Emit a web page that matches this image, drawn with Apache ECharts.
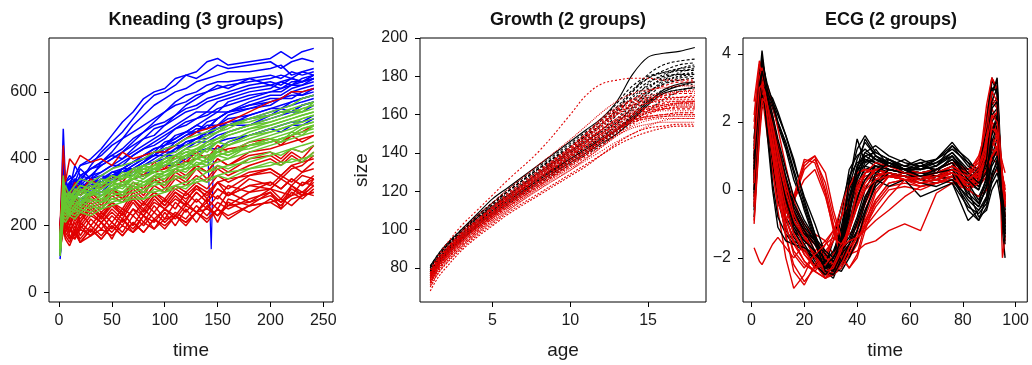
<!DOCTYPE html>
<html>
<head>
<meta charset="utf-8">
<script src="https://cdn.jsdelivr.net/npm/echarts@6/dist/echarts.min.js"></script>
<style>
html,body{margin:0;padding:0;background:#fff;}
#c{width:1032px;height:365px;}
</style>
</head>
<body>
<div id="c"></div>
<script>
// ---------------- Kneading (3 groups) ----------------
const KN_TIME = [1,4,6,10,15,20,30,40,50,60,70,80,90,100,110,120,130,140,150,160,180,200,210,220,230,241];
const KN_TICKS_X = [0,50,100,150,200,250];
const KN_TICKS_Y = [0,200,400,600];
const KN_BLUE = [
 [120,310,280,330,350,380,400,430,470,510,540,580,600,610,640,650,660,690,700,680,690,700,720,700,720,730],
 [110,290,300,320,340,330,380,420,450,480,520,560,590,600,620,650,640,660,680,670,680,690,670,690,700,690],
 [150,490,330,310,380,350,370,390,420,460,500,530,560,580,600,610,630,640,650,660,660,670,680,650,660,670],
 [200,360,310,290,340,320,350,380,400,420,450,480,510,540,570,590,600,620,630,630,640,650,640,660,650,660],
 [180,330,290,300,330,370,340,390,410,400,430,460,470,500,530,560,580,600,620,610,640,620,630,640,630,640],
 [130,300,300,270,310,290,320,350,340,370,390,410,430,440,470,480,500,520,540,540,570,590,590,610,620,630],
 [160,260,290,310,270,320,300,330,350,360,380,400,410,440,450,470,490,490,520,540,550,570,580,580,600,610],
 [100,240,260,280,290,260,310,320,340,370,370,390,420,420,450,470,480,500,500,530,550,560,580,590,590,600],
 [140,310,270,240,300,310,290,310,340,340,360,380,400,420,420,450,460,480,500,500,530,550,550,570,580,590],
 [170,280,250,290,300,270,310,300,330,350,350,380,390,400,430,440,460,460,480,500,500,530,540,540,560,570],
 [120,330,310,300,270,330,350,360,380,400,420,440,460,480,500,520,540,540,570,580,600,610,630,620,640,650],
 [110,270,240,270,280,250,290,300,310,320,340,350,370,380,390,410,420,430,450,460,470,490,500,510,510,530],
 [190,300,330,350,330,340,370,380,400,420,440,460,490,500,520,540,550,570,580,590,610,620,610,630,630,650],
 [150,400,340,300,330,310,340,330,360,360,380,400,410,430,440,440,460,480,490,510,520,540,550,560,570,580],
 [160,370,300,320,290,330,310,340,350,370,390,410,430,440,460,480,480,510,520,540,560,570,580,600,590,610],
 [130,300,340,290,310,290,320,320,340,360,370,390,410,430,440,460,480,470,500,520,530,550,560,570,580,590],
 [200,340,290,310,330,300,340,350,370,390,410,430,450,470,490,510,520,540,540,570,590,600,600,620,630,640],
 [170,290,320,280,310,320,320,340,360,370,390,400,420,450,460,480,500,490,520,540,560,580,580,600,610,620],
 [110,260,300,270,290,280,300,290,310,320,340,350,360,380,380,400,420,430,430,450,470,490,480,500,500,520],
 [140,280,290,300,320,310,330,330,350,360,370,390,410,410,430,450,460,470,490,500,520,530,550,540,560,570],
 [180,320,300,330,310,350,340,360,380,380,410,430,440,460,490,500,520,530,550,560,580,600,610,620,620,640],
 [150,350,320,300,310,300,330,320,330,350,360,380,390,410,410,430,450,450,470,480,500,520,530,540,540,560],
 [160,310,330,340,350,380,390,410,440,460,480,500,520,540,560,570,590,600,610,620,630,640,650,640,660,650],
 [140,300,290,330,320,350,370,390,410,430,460,480,500,510,530,550,560,580,590,600,620,630,620,640,630,650]
];
const KN_BLUE_SPIKE = [[141,400],[144,130],[146,395]];
const KN_RED = [
 [200,440,330,400,380,410,390,400,380,420,400,410,420,420,440,460,480,490,500,510,540,570,580,600,600,610],
 [150,250,200,190,170,210,180,230,190,240,200,250,220,250,230,270,240,280,250,300,270,310,300,290,330,320],
 [130,200,170,150,190,160,200,170,210,180,230,200,240,210,240,220,260,230,270,250,280,300,270,310,290,320],
 [170,240,190,220,180,240,200,240,210,250,230,270,240,280,250,300,270,300,280,320,300,330,310,340,320,350],
 [180,290,240,220,260,230,270,240,270,250,300,270,300,280,320,300,330,310,350,330,360,370,350,380,360,390],
 [140,220,180,160,200,150,190,160,200,170,210,180,220,200,230,210,240,220,250,230,260,270,280,260,290,300],
 [190,300,270,250,290,260,300,270,310,290,330,310,350,330,370,350,380,360,400,380,410,420,400,430,420,440],
 [160,240,200,180,220,190,230,210,240,210,250,230,270,250,280,260,300,270,310,290,320,330,310,340,320,340],
 [150,210,230,170,160,190,170,210,180,220,190,230,210,250,220,260,240,270,210,280,260,300,250,320,300,330],
 [200,320,290,280,310,290,320,310,330,320,340,350,360,370,380,390,400,410,420,430,440,460,450,470,480,500],
 [170,260,220,200,240,210,250,220,260,230,280,250,290,260,300,280,310,290,330,310,350,360,340,370,380,410],
 [140,190,160,140,180,150,170,190,170,200,180,210,190,220,230,210,240,250,230,260,270,290,270,290,300,290],
 [180,260,230,250,270,240,290,260,300,280,320,300,340,320,360,340,380,360,400,380,420,430,440,450,460,470],
 [160,230,250,210,240,220,260,230,270,240,290,260,300,270,310,290,320,300,330,340,350,370,350,380,390,400],
 [160,270,230,200,230,200,240,210,250,220,270,230,280,250,290,260,300,270,310,290,320,310,340,320,350,340],
 [140,220,180,200,160,200,170,210,160,220,180,230,190,240,200,250,210,260,230,270,240,280,260,300,280,310],
 [180,290,250,230,270,240,280,250,290,270,310,280,320,300,340,320,350,330,370,350,380,400,380,410,390,420],
 [150,200,220,180,210,170,220,190,230,200,250,210,260,220,270,240,280,250,290,260,300,310,280,320,290,340],
 [170,250,260,220,250,210,260,220,270,230,280,240,290,260,300,270,320,280,330,290,340,320,350,330,360,370],
 [190,310,270,240,280,250,300,270,310,280,320,290,340,310,350,330,370,340,380,360,400,410,390,420,400,440],
 [130,180,200,160,180,150,190,160,200,170,210,180,220,190,230,200,240,210,250,220,260,270,250,280,290,300],
 [200,350,310,290,330,300,340,310,350,330,370,350,390,370,410,390,420,400,440,420,450,460,440,470,450,470]
];
const KN_GREEN = [
 [130,300,260,250,280,300,290,310,330,340,350,370,380,400,410,430,440,460,480,490,520,540,550,560,580,590],
 [120,280,250,260,270,260,290,300,310,320,340,350,360,380,390,410,420,440,450,470,490,510,520,530,550,560],
 [150,350,270,240,260,280,270,290,300,320,310,330,340,360,370,380,400,410,420,440,460,480,490,500,520,530],
 [110,260,240,230,250,270,260,280,290,300,310,320,330,340,360,370,380,390,410,420,440,460,470,480,500,510],
 [140,240,230,250,240,260,250,270,280,290,300,310,320,330,340,350,370,380,390,400,420,440,450,460,470,480],
 [160,300,280,270,290,310,300,320,340,350,370,380,390,410,420,440,450,470,480,500,510,530,540,550,560,570],
 [130,230,220,240,230,250,240,260,270,280,290,300,300,310,320,330,340,360,370,380,390,410,420,430,440,450],
 [120,270,260,280,300,290,310,300,320,330,340,360,370,380,400,410,430,440,460,470,490,500,510,520,530,540],
 [170,320,290,300,320,340,330,350,370,380,390,400,420,430,440,460,470,480,490,500,520,530,540,540,550,560],
 [140,250,240,260,250,270,280,270,290,300,310,320,340,350,360,370,380,400,410,420,430,450,460,470,490,500],
 [110,220,210,230,220,240,230,250,260,270,280,280,290,300,310,320,330,340,350,360,370,380,390,390,400,410],
 [150,280,270,290,280,300,320,310,330,340,360,370,380,390,410,420,430,450,460,480,500,510,520,530,540,550],
 [130,260,250,270,260,280,300,290,310,330,320,340,360,350,370,390,380,400,420,410,440,450,460,470,480,490],
 [160,310,290,270,300,320,310,330,350,340,360,380,370,390,400,420,410,430,450,440,470,480,490,500,510,520],
 [140,330,280,260,290,270,300,290,320,310,340,330,350,360,380,370,400,390,420,410,440,460,450,480,470,500],
 [120,270,240,250,280,260,300,280,310,300,330,320,350,340,370,360,390,380,410,400,440,450,460,470,490,500],
 [160,290,270,300,280,310,290,330,320,350,340,370,360,390,380,410,400,430,420,450,480,500,510,520,530,540],
 [130,250,270,240,260,250,280,270,300,290,320,300,330,320,350,340,370,360,380,370,400,420,410,430,420,440],
 [150,300,320,290,300,320,310,340,330,360,350,380,370,400,410,430,420,450,460,480,500,520,530,550,540,570],
 [110,240,260,230,250,240,260,250,280,270,290,280,310,300,320,310,340,330,350,340,370,390,380,400,390,420],
 [170,340,300,280,310,300,330,320,350,340,370,360,380,390,410,400,430,420,450,440,470,490,500,510,520,530],
 [140,260,280,260,290,280,300,310,330,320,350,340,370,360,390,380,410,400,430,420,450,470,480,490,500,510]
];

// ---------------- Growth (2 groups) ----------------
const GR_AGE = [1,1.5,2,3,4,5,6,8,10,11,12,13,14,15,16,17,18];
const GR_TICKS_X = [5,10,15];
const GR_TICKS_Y = [80,100,120,140,160,180,200];
const GR_BOYS = [
 [81,87,92,100,108,116,122,134,146,152,158,167,181,190,192,193,195],
 [80,86,91,99,107,114,120,132,143,149,155,162,172,181,186,188,189],
 [78,84,89,97,105,112,118,130,141,147,152,158,167,176,181,183,184],
 [77,83,88,96,103,110,116,127,138,143,148,153,160,169,176,179,180],
 [79,85,90,98,106,113,119,131,142,148,154,161,169,175,178,180,181],
 [76,82,87,95,102,108,114,125,135,140,145,150,157,165,171,173,174],
 [80,86,91,99,106,113,120,132,144,150,157,166,175,180,182,183,183],
 [78,84,89,97,104,111,117,128,139,144,149,154,162,171,177,180,182],
 [75,81,86,94,101,107,113,124,134,139,144,150,158,166,171,173,174],
 [79,85,90,98,105,112,118,129,140,145,150,156,164,173,180,184,186],
 [77,83,88,95,102,109,115,126,137,142,147,152,159,167,172,175,177],
 [81,87,92,100,107,114,121,133,145,151,157,164,173,179,182,184,185],
 [76,82,87,95,102,108,114,125,136,141,146,151,156,162,168,172,175],
 [78,84,89,97,104,110,116,127,138,143,148,155,164,172,176,178,179],
 [79,85,90,98,105,112,118,130,141,146,151,157,166,174,179,181,182],
 [77,83,88,96,103,110,116,127,137,142,147,152,158,166,173,176,177],
 [80,86,91,99,107,114,120,132,143,149,155,163,172,179,183,186,187],
 [76,82,87,95,102,109,115,126,136,141,146,152,160,168,173,175,176],
 [78,84,89,97,104,111,117,129,140,146,152,160,170,177,180,181,181],
 [80,86,91,99,106,112,118,130,141,146,151,156,163,171,178,182,184]
];
const GR_GIRLS = [
 [79,86,92,102,110,118,126,141,160,170,176,178,179,179,178,178,178],
 [74,81,86,94,101,108,114,125,136,142,149,155,159,161,162,162,162],
 [76,83,88,97,104,111,117,129,141,148,155,161,165,167,168,168,168],
 [72,79,84,92,99,105,111,122,132,137,143,149,153,155,156,156,156],
 [77,84,89,98,105,112,119,131,143,150,157,163,167,169,170,171,171],
 [73,80,85,93,100,106,112,123,134,139,145,151,156,158,159,160,160],
 [75,82,87,96,103,109,116,127,139,145,151,157,161,163,164,165,165],
 [70,77,82,90,97,103,109,119,129,134,139,144,148,151,153,154,154],
 [78,85,90,99,107,114,121,134,147,154,161,167,171,173,174,175,175],
 [74,81,86,95,102,108,115,127,138,144,150,156,161,164,166,167,167],
 [76,83,88,96,103,110,116,128,140,146,153,160,165,168,170,172,173],
 [71,78,83,91,98,104,110,121,131,136,141,146,150,154,157,158,158],
 [75,82,87,95,102,108,114,125,137,143,149,154,158,161,163,164,164],
 [73,80,85,93,100,107,113,124,135,141,147,153,158,162,165,166,166],
 [77,84,89,98,105,111,118,130,142,148,155,162,168,172,175,177,177],
 [72,79,84,93,100,106,112,123,133,138,144,150,155,160,163,164,164],
 [74,81,86,94,101,107,113,125,136,142,148,153,157,159,160,161,161],
 [68,75,80,89,96,102,108,118,128,133,139,145,150,153,154,155,155],
 [75,82,87,95,102,109,115,127,139,146,152,158,162,164,165,165,165],
 [73,80,85,94,101,107,114,126,138,145,152,157,160,162,163,163,163],
 [76,83,88,97,104,110,117,129,142,149,156,162,166,168,169,169,169],
 [71,78,83,91,98,105,111,122,133,139,146,152,157,159,160,160,160],
 [74,81,86,94,101,107,113,124,135,140,146,152,157,161,164,166,167],
 [78,85,90,98,105,112,118,130,143,150,158,164,168,170,171,172,172],
 [72,79,84,92,99,106,112,123,134,140,147,153,157,159,160,161,161],
 [75,82,87,96,103,109,116,128,140,146,152,158,163,166,168,169,170],
 [70,77,82,91,98,104,110,121,131,137,143,149,154,157,158,158,158],
 [77,84,89,97,104,111,117,129,141,147,154,160,164,166,167,167,167],
 [73,80,86,95,102,108,114,125,136,141,147,152,156,158,159,159,159],
 [76,83,88,96,103,109,116,128,139,144,150,155,160,163,165,166,166]
];

// ---------------- ECG (2 groups) ----------------
const ECG_TIME = [1,3,4,6,8,10,13,16,20,24,28,31,34,37,40,43,47,52,58,64,70,76,82,86,89,91,93,95,96];
const ECG_TICKS_X = [0,20,40,60,80,100];
const ECG_TICKS_Y = [-2,0,2,4];
const ECG_BLACK = [
 [0.5,3.2,4.1,2.8,1.5,0.6,-0.5,-1.0,-1.3,-1.6,-2.3,-2.0,-0.8,0.6,1.0,1.2,0.9,0.8,0.6,0.5,0.6,0.9,0.4,0.2,1.5,3.2,3.0,-0.2,-1.0],
 [0.0,2.6,3.4,2.2,1.0,0.0,-0.8,-1.2,-1.5,-1.8,-2.4,-2.2,-1.5,-0.2,0.7,1.0,1.1,0.9,0.7,0.6,0.8,1.0,0.5,0.3,0.8,2.5,2.7,-0.8,-1.5],
 [1.2,3.5,3.2,2.5,1.8,1.0,0.0,-0.7,-1.2,-1.5,-2.0,-2.5,-1.9,-0.6,0.4,0.9,0.8,0.6,0.5,0.4,0.5,0.7,0.1,-0.4,0.0,1.0,1.5,0.3,-0.5],
 [-0.5,2.0,2.9,3.0,2.6,2.0,1.4,0.6,-0.4,-1.3,-2.1,-1.8,-1.2,0.0,0.6,0.7,0.6,0.5,0.4,0.3,0.2,0.4,-0.3,-0.6,-0.2,0.5,0.8,-0.3,-0.9],
 [0.8,3.0,3.8,3.0,2.0,0.8,-0.3,-1.0,-1.4,-2.0,-2.5,-2.3,-1.7,-1.0,0.1,0.7,1.0,0.8,0.7,0.8,0.9,1.2,0.8,0.3,2.0,3.3,2.8,-1.2,-2.0],
 [0.2,2.4,3.0,2.0,0.8,-0.3,-1.2,-1.5,-1.7,-2.0,-2.2,-1.5,-0.5,0.4,0.8,0.9,0.7,0.5,0.4,0.4,0.3,0.5,0.0,-0.2,0.3,1.2,1.8,0.4,-0.3],
 [-0.8,1.8,2.5,2.9,2.7,2.3,1.6,0.8,-0.2,-1.0,-1.9,-2.1,-2.0,-1.2,-0.3,0.5,0.7,0.6,0.5,0.4,0.3,0.2,-0.5,-0.7,-0.4,0.2,0.5,-0.2,-0.8],
 [1.5,3.6,3.5,2.2,1.2,0.4,-0.6,-1.1,-1.6,-2.1,-2.6,-2.4,-1.6,-0.4,0.5,1.1,1.3,1.0,0.8,0.7,0.8,1.1,0.6,0.4,1.0,2.8,3.3,0.0,-0.8],
 [0.3,2.8,3.3,2.4,1.6,0.9,-0.2,-0.8,-1.3,-1.6,-2.0,-1.9,-1.3,-0.6,0.2,0.6,0.7,0.6,0.5,0.3,0.4,0.6,0.0,-0.8,-0.6,0.0,0.3,-0.6,-1.1],
 [-0.3,2.2,3.0,2.8,2.4,1.9,1.2,0.3,-0.5,-1.4,-2.3,-2.1,-1.7,-1.4,-0.8,0.0,0.6,0.7,0.6,0.5,0.5,0.7,0.2,0.0,0.6,1.8,2.0,-0.4,-1.0],
 [0.6,3.1,3.6,1.8,0.2,-0.8,-1.3,-1.6,-1.8,-2.0,-2.4,-2.6,-2.0,-0.4,0.6,0.9,0.8,0.6,0.5,0.5,0.6,0.8,-0.2,-0.5,0.1,0.9,1.2,-0.5,-1.2],
 [0.9,2.7,3.1,2.1,1.3,0.7,-0.4,-1.1,-1.5,-1.8,-2.2,-2.0,-1.1,0.1,0.9,1.4,1.0,0.7,0.6,0.6,0.7,1.3,0.9,0.5,1.2,2.2,2.4,-0.2,-0.7],
 [-0.2,2.4,3.4,2.5,1.4,0.5,-0.9,-1.4,-1.8,-2.0,-2.3,-2.2,-1.8,-0.9,-0.2,0.3,0.7,0.7,0.6,0.5,0.4,0.3,-0.4,-0.9,-0.5,0.3,0.7,-0.1,-0.6],
 [0.4,3.3,3.9,2.9,1.8,0.8,-0.2,-0.9,-1.4,-1.9,-2.3,-2.4,-1.9,-0.7,0.3,0.8,0.9,0.7,0.6,0.6,0.7,1.0,0.4,0.1,0.7,2.9,3.2,-0.6,-1.3],
 [0.2,2.9,3.6,2.7,1.9,1.2,0.2,-0.6,-1.2,-1.8,-2.4,-2.5,-2.3,-1.8,-1.2,-0.4,0.4,0.9,0.6,0.8,0.5,1.0,0.3,0.6,0.9,2.0,2.3,-0.4,-1.0],
 [1.0,3.4,3.7,2.9,2.1,1.4,0.4,-0.4,-1.0,-1.5,-2.1,-2.4,-1.6,0.2,1.5,0.8,1.2,0.7,0.9,0.6,0.9,1.3,0.7,0.5,1.1,2.6,3.0,-0.3,-1.1],
 [-0.6,2.1,2.8,2.3,1.5,0.6,-0.5,-1.2,-1.7,-2.2,-2.5,-2.2,-1.8,-1.5,-0.9,-0.2,0.3,0.1,0.3,-0.2,0.0,0.2,-0.9,-0.6,-0.3,0.4,0.9,-0.4,-1.3],
 [0.4,3.0,3.8,3.1,2.6,2.2,1.6,0.9,-0.3,-1.3,-2.2,-2.0,-1.4,-0.8,0.6,1.5,1.0,0.8,0.5,0.7,0.6,0.8,0.2,-0.3,0.2,1.4,1.9,0.2,-0.6],
 [0.7,2.6,3.0,2.4,1.8,1.0,0.1,-0.7,-1.2,-1.6,-2.1,-2.3,-2.4,-2.0,-1.5,-0.7,0.2,0.6,0.5,0.3,0.4,0.5,-0.6,-0.9,-0.2,0.8,1.2,-0.6,-1.4],
 [1.3,3.3,3.4,1.6,0.0,-1.1,-1.5,-1.6,-1.7,-1.9,-2.2,-2.4,-1.7,-0.5,0.3,1.0,0.8,0.9,0.6,0.7,0.9,1.4,0.8,0.6,1.8,3.0,2.9,-0.9,-1.6],
 [-0.1,2.5,3.2,2.7,2.0,1.3,0.3,-0.5,-1.1,-1.5,-1.9,-2.1,-1.9,-1.6,-1.2,-0.6,0.1,0.5,0.4,0.2,0.1,0.3,-0.2,-0.5,0.1,0.7,1.0,-0.2,-0.8],
 [0.9,3.1,3.5,2.5,1.6,0.7,-0.3,-1.0,-1.5,-1.8,-2.3,-2.2,-1.4,0.3,1.2,1.6,1.1,0.9,0.7,0.9,0.7,1.1,0.5,0.2,0.5,1.6,2.1,-0.1,-0.9],
 [0.0,2.3,3.1,2.9,2.5,2.0,1.3,0.5,-0.6,-1.5,-2.4,-2.5,-2.1,-1.6,-1.0,-0.3,0.5,0.8,0.6,0.4,0.5,0.6,-0.1,-0.4,0.4,1.7,2.2,-0.5,-1.2],
 [0.6,2.8,3.5,2.8,2.2,1.5,0.6,-0.2,-0.9,-1.4,-1.8,-2.0,-1.5,-0.3,0.7,1.1,0.9,0.7,0.6,0.4,0.6,0.9,0.3,0.0,0.9,2.4,2.6,-0.7,-1.1]
];
const ECG_RED = [
 [-1.7,-2.1,-2.2,-1.9,-1.6,-1.4,-1.7,-2.0,-1.6,-1.3,-1.5,-1.9,-1.6,-1.0,-0.2,0.3,0.4,0.5,0.4,0.3,0.4,0.6,0.5,0.3,0.8,1.5,1.2,0.4,0.1],
 [0.5,3.0,3.5,2.6,1.5,0.5,-0.6,-0.3,0.6,0.9,0.2,-0.8,-1.5,-1.8,-1.2,-0.2,0.4,0.6,0.5,0.4,0.5,0.6,0.3,0.6,2.2,3.3,3.0,-0.5,-1.4],
 [1.0,2.8,3.0,2.0,0.7,-0.6,-2.0,-2.9,-2.5,-1.8,-1.5,-1.2,-1.4,-1.0,-0.3,0.3,0.6,0.5,0.3,0.2,0.3,0.4,0.2,0.5,0.8,1.2,1.0,0.2,-0.2],
 [0.0,2.2,2.7,2.2,1.6,0.8,-0.2,-0.8,-1.2,-1.6,-2.1,-2.2,-2.0,-1.9,-1.8,-1.6,-1.5,-1.2,-1.0,-1.2,-0.1,0.2,0.3,0.1,0.4,0.9,1.1,0.3,-0.2],
 [2.6,3.8,3.6,2.8,2.0,1.2,0.2,-0.5,-1.0,-1.4,-1.9,-2.3,-2.0,-1.0,0.0,0.5,0.6,0.5,0.4,0.3,0.4,0.5,0.2,0.6,2.5,3.3,2.9,-2.0,-1.4],
 [-1.0,1.5,2.4,2.6,2.1,1.3,0.2,-0.7,-1.3,-1.9,-2.5,-2.4,-2.0,-1.6,-1.0,-0.4,0.2,0.4,0.3,0.2,0.3,0.4,0.0,-0.2,0.0,0.4,0.6,0.0,-0.4],
 [1.5,3.2,2.8,1.6,0.5,-0.4,-0.9,-0.4,0.8,1.0,0.0,-1.0,-1.8,-2.0,-1.6,-0.8,0.0,0.4,0.5,0.5,0.6,0.8,0.6,0.9,1.4,1.8,1.5,0.8,0.5],
 [0.3,2.5,3.3,2.7,1.7,0.6,-0.5,-1.3,-1.9,-2.2,-2.5,-2.0,-1.4,-1.3,-1.1,-0.4,0.3,0.6,0.5,0.4,0.4,0.7,0.4,0.2,0.6,1.3,1.6,0.2,-0.3],
 [0.8,2.9,3.4,2.3,1.1,0.2,-1.1,-1.8,-2.2,-2.4,-2.0,-1.3,-0.5,0.2,0.5,0.6,0.5,0.4,0.3,0.2,0.3,0.2,0.0,0.3,1.0,2.0,1.8,0.1,-0.4],
 [-0.4,2.0,3.0,3.1,2.5,1.8,0.7,-0.3,-1.1,-1.8,-2.3,-2.4,-2.1,-1.7,-1.3,-0.9,-0.3,0.2,0.3,0.3,0.4,0.6,0.3,0.5,1.5,2.4,2.0,-0.3,-1.0],
 [1.8,3.4,3.0,2.0,1.0,0.0,-1.4,-2.2,-2.7,-2.3,-1.8,-1.5,-1.1,-0.5,0.1,0.4,0.5,0.4,0.3,0.2,0.4,0.5,0.3,0.4,0.9,1.4,1.2,0.2,-0.3],
 [0.6,2.7,3.2,2.5,1.5,0.7,-0.1,-0.3,0.3,0.6,-0.2,-1.1,-1.9,-2.3,-2.0,-1.2,-0.3,0.2,0.3,0.2,0.2,0.3,0.1,0.2,0.5,0.9,0.8,0.0,-0.5],
 [-0.2,2.3,2.9,2.4,1.8,1.0,0.0,-0.6,-1.2,-1.6,-2.0,-2.2,-1.9,-1.2,-0.4,0.2,0.6,0.7,0.6,0.5,0.6,0.8,0.5,1.0,1.8,2.6,2.4,0.5,-0.3],
 [1.1,3.1,3.3,2.3,1.3,0.3,-0.8,-1.6,-2.1,-2.4,-2.6,-2.4,-2.2,-1.8,-1.4,-1.0,-0.4,0.1,0.2,0.1,0.2,0.4,0.2,0.4,0.6,1.0,1.1,0.1,-0.5],
 [2.0,3.5,3.3,2.4,1.4,0.4,-0.7,-0.2,0.7,1.0,0.5,-0.6,-1.4,-1.9,-1.5,-0.6,0.2,0.5,0.4,0.3,0.4,0.5,0.1,0.5,1.6,2.7,2.5,0.3,-0.2],
 [0.1,2.4,3.1,2.5,1.6,0.7,-0.4,-1.2,-1.8,-2.2,-2.6,-2.5,-2.3,-1.9,-1.5,-1.1,-0.5,0.0,0.1,0.0,0.2,0.4,0.1,0.4,0.8,1.5,1.4,0.3,-0.1],
 [-0.9,1.6,2.6,2.8,2.2,1.4,0.2,-0.9,-1.7,-2.3,-2.0,-1.5,-0.8,0.1,0.5,0.6,0.5,0.4,0.3,0.1,0.2,0.3,0.0,0.2,0.5,1.0,1.3,0.4,0.0],
 [1.4,3.1,3.2,2.1,1.0,-0.1,-1.3,-2.4,-2.8,-2.2,-1.6,-1.2,-0.8,-0.4,0.2,0.5,0.6,0.5,0.4,0.3,0.5,0.7,0.5,0.8,1.3,2.0,1.7,0.3,-0.3],
 [0.4,2.7,3.3,2.6,1.7,0.9,-0.1,-0.9,-1.4,-1.9,-2.4,-2.5,-2.2,-1.7,-1.4,-1.2,-0.9,-0.6,-0.2,0.1,0.2,0.3,0.1,0.3,0.6,1.0,1.2,0.2,-0.4],
 [0.9,3.3,3.6,2.7,1.9,1.0,0.0,-0.2,0.9,0.8,-0.1,-1.2,-2.0,-2.3,-1.9,-1.0,-0.1,0.4,0.4,0.3,0.4,0.5,0.2,0.4,1.1,2.1,2.3,0.0,-0.8],
 [-0.5,2.0,2.7,2.5,1.9,1.2,0.2,-0.7,-1.4,-2.0,-2.4,-2.3,-1.8,-1.0,-0.1,0.5,0.8,0.7,0.5,0.4,0.5,0.7,0.4,0.9,1.9,2.9,2.6,0.2,-0.5],
 [2.2,3.7,3.4,2.5,1.6,0.7,-0.5,-1.3,-1.9,-2.3,-2.2,-1.9,-1.6,-1.2,-0.5,0.1,0.4,0.5,0.4,0.2,0.3,0.5,0.3,0.6,1.2,1.9,1.6,0.4,-0.2],
 [0.2,2.6,3.2,2.5,1.5,0.5,-0.8,-1.5,-2.1,-2.4,-2.6,-2.2,-1.7,-1.5,-1.4,-1.1,-0.7,-0.2,0.3,0.4,0.3,0.5,0.3,0.5,1.0,1.8,1.7,0.1,-0.4],
 [1.2,3.0,3.1,2.2,1.2,0.1,-1.0,-1.9,-2.3,-1.9,-1.6,-1.4,-1.6,-1.2,-0.5,0.0,0.3,0.4,0.3,0.2,0.3,0.6,0.4,0.7,1.4,2.2,2.0,0.4,0.0]
];

// ---------------- build ----------------
const BLUE = '#0000FF', RED = '#E00000', GREEN = '#66C630', BLACK = '#000000';
const FONT = 'Liberation Sans, Arial, Helvetica, sans-serif';
const TXT = '#1a1a1a';

function pairs(xs, ys){ return xs.map((x,i)=>[x, ys[i]]); }
function lineSeries(data, color, idx, width, extra){
  return Object.assign({
    type:'line', data:data, xAxisIndex:idx, yAxisIndex:idx,
    showSymbol:false, symbol:'none', silent:true, animation:false,
    lineStyle:{color:color, width:width}, emphasis:{disabled:true}, z:2
  }, extra||{});
}

const series = [];
KN_BLUE.forEach(r=>series.push(lineSeries(pairs(KN_TIME,r), BLUE, 0, 1.5)));
series.push(lineSeries(KN_BLUE_SPIKE, BLUE, 0, 1.2));
KN_RED.forEach(r=>series.push(lineSeries(pairs(KN_TIME,r), RED, 0, 1.5)));
KN_GREEN.forEach(r=>series.push(lineSeries(pairs(KN_TIME,r), GREEN, 0, 1.5)));

const boyTypes = ['solid',[3,2],[2,2],[3,2],[2,2]];
const girlTypes = [[2,2],[1,1.5],[2,1.5],[1,1],[3,2]];
GR_BOYS.forEach((r,i)=>{
  const s = lineSeries(pairs(GR_AGE,r), BLACK, 1, 1.1, {smooth:0.35});
  s.lineStyle.type = boyTypes[i%boyTypes.length];
  series.push(s);
});
GR_GIRLS.forEach((r,i)=>{
  const s = lineSeries(pairs(GR_AGE,r), RED, 1, 1.1, {smooth:0.35});
  s.lineStyle.type = girlTypes[i%girlTypes.length];
  series.push(s);
});

for (let i=0;i<Math.max(ECG_BLACK.length, ECG_RED.length);i++){
  if (ECG_BLACK[i]) series.push(lineSeries(pairs(ECG_TIME,ECG_BLACK[i]), BLACK, 2, 1.4));
  if (ECG_RED[i]) series.push(lineSeries(pairs(ECG_TIME,ECG_RED[i]), RED, 2, 1.4));
}

function fmt(v){ return String(v).replace('-','\u2212'); }
function xAxis(idx, min, max, ticks, name){
  return {
    type:'value', gridIndex:idx, min:min, max:max,
    name:name, nameLocation:'middle', nameGap:39,
    nameTextStyle:{fontFamily:FONT, fontSize:19, color:TXT},
    axisLine:{show:false, onZero:false},
    axisTick:{show:true, inside:false, length:5, customValues:ticks, lineStyle:{color:'#000', width:1}},
    axisLabel:{show:true, margin:11, customValues:ticks, fontFamily:FONT, fontSize:16, color:TXT, formatter:fmt},
    splitLine:{show:false}
  };
}
function yAxis(idx, min, max, ticks, name){
  return {
    type:'value', gridIndex:idx, min:min, max:max,
    name:name||'', nameLocation:'middle', nameGap:49, nameRotate:90,
    nameTextStyle:{fontFamily:FONT, fontSize:19, color:TXT},
    axisLine:{show:false, onZero:false},
    axisTick:{show:true, inside:false, length:5, customValues:ticks, lineStyle:{color:'#000', width:1}},
    axisLabel:{show:true, margin:12, customValues:ticks, fontFamily:FONT, fontSize:16, color:TXT, formatter:fmt},
    splitLine:{show:false}
  };
}

const gridBase = {show:true, borderColor:'#000', borderWidth:1, backgroundColor:'transparent', containLabel:false};
const titleStyle = {fontFamily:FONT, fontSize:18, fontWeight:'bold', color:'#111'};
const option = {
  backgroundColor:'#ffffff',
  animation:false,
  title:[
    {text:'Kneading (3 groups)', left:191, top:6, textAlign:'center', textStyle:titleStyle},
    {text:'Growth (2 groups)', left:563, top:6, textAlign:'center', textStyle:titleStyle},
    {text:'ECG (2 groups)', left:886, top:6, textAlign:'center', textStyle:titleStyle}
  ],
  grid:[
    Object.assign({left:49, top:38, width:284, height:264}, gridBase),
    Object.assign({left:420, top:38, width:286, height:264}, gridBase),
    Object.assign({left:743, top:38, width:285, height:264}, gridBase)
  ],
  xAxis:[
    xAxis(0, -9.5, 259.2, KN_TICKS_X, 'time'),
    xAxis(1, 0.34, 18.72, GR_TICKS_X, 'age'),
    xAxis(2, -3.2, 104.4, ECG_TICKS_X, 'time')
  ],
  yAxis:[
    yAxis(0, -28, 761, KN_TICKS_Y, ''),
    yAxis(1, 62.2, 200, GR_TICKS_Y, 'size'),
    yAxis(2, -3.30, 4.47, ECG_TICKS_Y, '')
  ],
  series:series
};
const chart = echarts.init(document.getElementById('c'), null, {renderer:'canvas'});
chart.setOption(option);
</script>
</body>
</html>
